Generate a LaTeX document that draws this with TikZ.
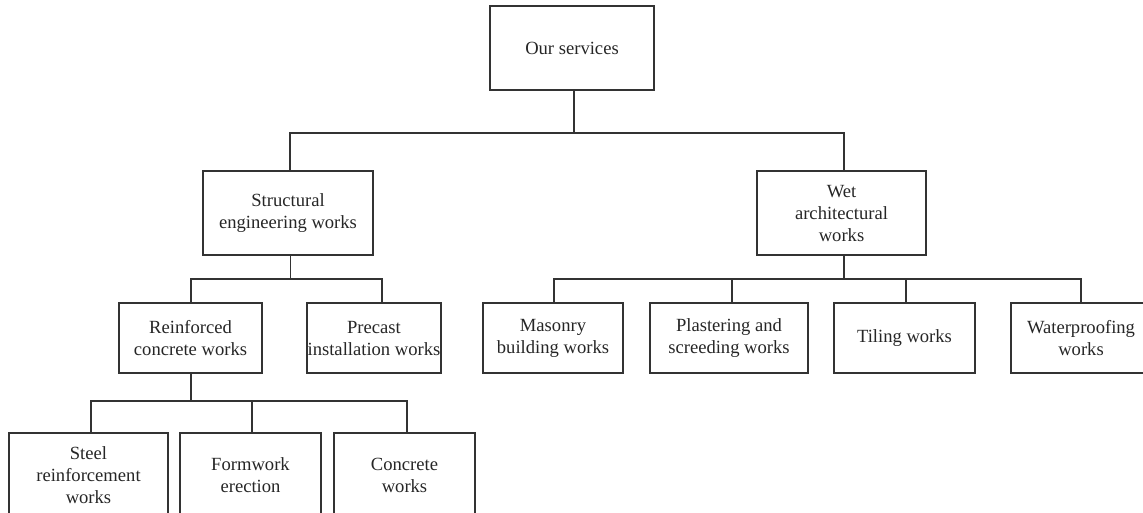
\documentclass[tikz,border=0pt]{standalone}
\usepackage{fontspec}
\newfontfamily\boxfont{Liberation Serif}
\begin{document}
\begin{tikzpicture}[x=1pt,y=-1pt,
  box/.style={draw=black!80, line width=1.2pt, align=center, inner sep=0pt,
    font=\boxfont\fontsize{18.6}{22}\selectfont, text=black!85},
  conn/.style={draw=black!80, line width=1.2pt}]
\useasboundingbox (0,0) rectangle (1143,512);
\clip (0,0) rectangle (1143,512);
% nodes
\node[box, minimum width=164pt, minimum height=84pt] (top) at (572,48) {Our services};
\node[box, minimum width=170pt, minimum height=84pt] (struct) at (288,213) {Structural\\engineering works};
\node[box, minimum width=169pt, minimum height=84pt] (wet) at (841.5,213) {Wet\\architectural\\works};
\node[box, minimum width=143pt, minimum height=70pt] (reinf) at (190.5,338) {Reinforced\\concrete works};
\node[box, minimum width=134pt, minimum height=70pt] (precast) at (374,338) {Precast\\installation works};
\node[box, minimum width=140pt, minimum height=70pt] (mason) at (553,338) {Masonry\\building works};
\node[box, minimum width=158pt, minimum height=70pt] (plast) at (729,338) {Plastering and\\screeding works};
\node[box, minimum width=141pt, minimum height=70pt] (tiling) at (904.5,338) {Tiling works};
\node[box, minimum width=140pt, minimum height=70pt] (water) at (1081,338) {Waterproofing\\works};
\node[box, minimum width=159pt, minimum height=84pt] (steel) at (88.5,475) {Steel\\reinforcement\\works};
\node[box, minimum width=141pt, minimum height=84pt] (form) at (250.5,475) {Formwork\\erection};
\node[box, minimum width=141pt, minimum height=84pt] (concrete) at (404.5,475) {Concrete\\works};
% junctions
\coordinate (b0) at (574,133);
\coordinate (b1) at (290.5,279);
\coordinate (b2) at (844,279);
\coordinate (b3) at (191,401);
% connectors
\draw[conn] (top.south -| b0) -- (b0);
\draw[conn] ([xshift=2pt]struct.north) |- (b0) -| ([xshift=2.5pt]wet.north);
\draw[conn] (struct.south -| b1) -- (b1);
\draw[conn] ([xshift=0.5pt]reinf.north) |- (b1) -| ([xshift=8pt]precast.north);
\draw[conn] (wet.south -| b2) -- (b2);
\draw[conn] ([xshift=1pt]mason.north) |- (b2) -| (water.north);
\draw[conn] ([xshift=3pt]plast.north) -- ([xshift=3pt]plast.north |- b2);
\draw[conn] ([xshift=1.5pt]tiling.north) -- ([xshift=1.5pt]tiling.north |- b2);
\draw[conn] (reinf.south -| b3) -- (b3);
\draw[conn] ([xshift=2.5pt]steel.north) |- (b3) -| ([xshift=2.5pt]concrete.north);
\draw[conn] ([xshift=1.5pt]form.north) -- ([xshift=1.5pt]form.north |- b3);
\end{tikzpicture}
\end{document}
